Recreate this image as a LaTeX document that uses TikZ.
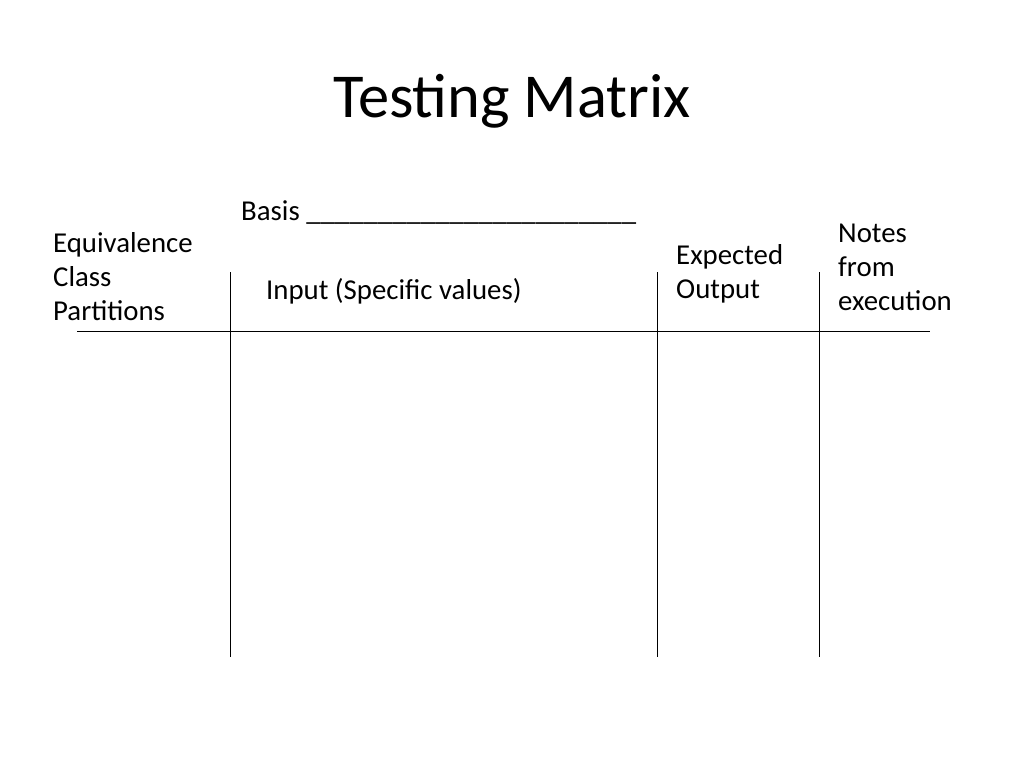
\documentclass[tikz,border=0pt]{standalone}
\usepackage{fontspec}
\setmainfont{Carlito}
\begin{document}
\begin{tikzpicture}[x=1pt,y=-1pt,
  lbl/.style={inner sep=0pt,anchor=base west,align=left,font=\fontsize{28.8}{34}\selectfont},
  rule/.style={line width=1pt}]
\useasboundingbox (0,0) rectangle (1024,768);
\node[inner sep=0pt,anchor=base,font=\fontsize{62.5}{70}\selectfont] (title) at (512,117) {Testing Matrix};
\node[lbl] (basis) at (241,220) {Basis \_\_\_\_\_\_\_\_\_\_\_\_\_\_\_\_\_\_\_\_\_\_\_};
\node[lbl] (eq) at (53,320) {Equivalence\\Class\\Partitions};
\node[lbl] (in) at (266,299) {Input (Specific values)};
\node[lbl] (ex) at (676,298) {Expected\\Output};
\node[lbl] (no) at (838,310) {Notes\\from\\execution};
\coordinate (hl) at (77,331); \coordinate (hr) at (930,331);
\coordinate (a1) at (230,272); \coordinate (a2) at (230,657);
\coordinate (b1) at (657,272); \coordinate (b2) at (657,657);
\coordinate (c1) at (819,272); \coordinate (c2) at (819,657);
\draw[rule] (hl) -- (hr);
\draw[rule] (a1) -- (a2);
\draw[rule] (b1) -- (b2);
\draw[rule] (c1) -- (c2);
\end{tikzpicture}
\end{document}
